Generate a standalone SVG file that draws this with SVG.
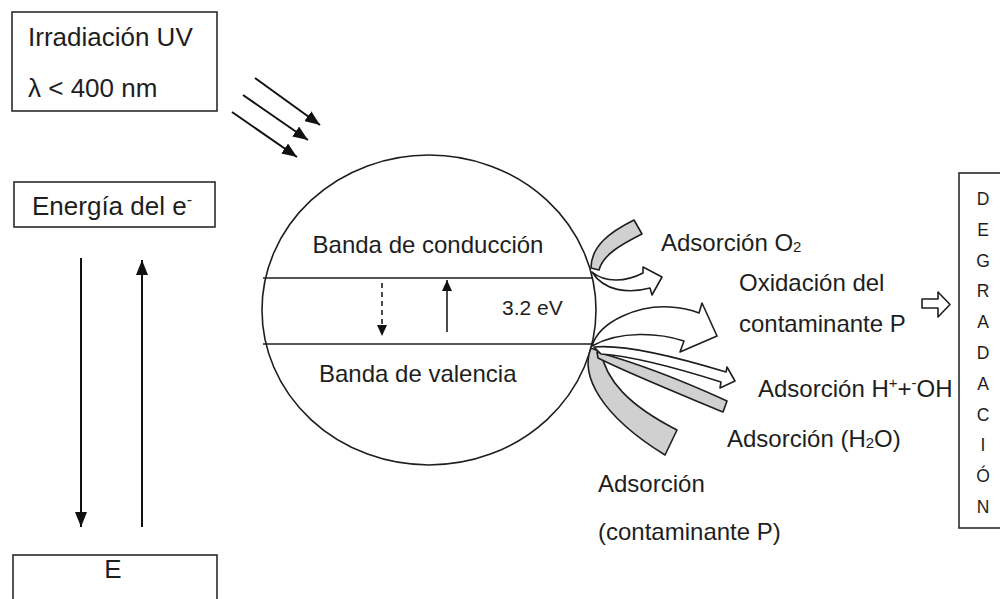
<svg xmlns="http://www.w3.org/2000/svg" width="1000" height="599" viewBox="0 0 1000 599">
<style>
.t{font-family:"Liberation Sans",Arial,sans-serif;fill:#1e1e1e}
.box{fill:#fff;stroke:#2b2b2b;stroke-width:1.6}
.ln{stroke:#1e1e1e;stroke-width:1.6;fill:none}
.ar{stroke:#111;stroke-width:2;fill:none}
.gray{fill:#d0d0d0;stroke:#1e1e1e;stroke-width:1.6;stroke-linejoin:round}
.wht{fill:#fff;stroke:#1e1e1e;stroke-width:1.6;stroke-linejoin:round}
</style>
<defs>
<marker id="ah" markerUnits="userSpaceOnUse" markerWidth="16" markerHeight="12" refX="15" refY="6" orient="auto">
<path d="M0,0 L15,6 L0,12 z" fill="#111"/>
</marker>
<marker id="ahs" markerUnits="userSpaceOnUse" markerWidth="12" markerHeight="10" refX="11" refY="5" orient="auto">
<path d="M0,0 L11,5 L0,10 z" fill="#111"/>
</marker>
</defs>
<rect width="1000" height="599" fill="#fff"/>

<g id="irradiacion">
<rect class="box" x="12" y="12" width="205" height="99"/>
<text class="t" x="28" y="46" font-size="26">Irradiación UV</text>
<text class="t" x="28" y="97" font-size="26">λ &lt; 400 nm</text>
</g>

<g id="energia">
<rect class="box" x="14" y="182" width="201" height="45"/>
<text class="t" x="32" y="215" font-size="26">Energía del e<tspan font-size="16" dy="-10">-</tspan></text>
</g>

<g id="e-box">
<rect class="box" x="13" y="555" width="204" height="60"/>
<text class="t" x="113" y="578" font-size="26" text-anchor="middle">E</text>
</g>

<g id="particula">
<ellipse class="ln" cx="429" cy="310" rx="167" ry="155"/>
<line class="ln" x1="263" y1="278" x2="593" y2="278"/>
<line class="ln" x1="263" y1="344" x2="595" y2="344"/>
<text class="t" x="428" y="253" font-size="24" text-anchor="middle">Banda de conducción</text>
<text class="t" x="502" y="315" font-size="21">3.2 eV</text>
<text class="t" x="319" y="382" font-size="24">Banda de valencia</text>
</g>

<g id="degradacion">
<rect class="box" x="959" y="173" width="50" height="355"/>
<g class="t" font-size="17.5" text-anchor="middle">
<text x="983" y="205">D</text>
<text x="983" y="236">E</text>
<text x="983" y="267">G</text>
<text x="983" y="297">R</text>
<text x="983" y="328">A</text>
<text x="983" y="359">D</text>
<text x="983" y="390">A</text>
<text x="983" y="421">C</text>
<text x="983" y="451">I</text>
<text x="983" y="482">Ó</text>
<text x="983" y="513">N</text>
</g>
</g>

<g id="labels">
<text class="t" x="661" y="251" font-size="24">Adsorción O<tspan font-size="15" dy="1">2</tspan></text>
<text class="t" x="739" y="291" font-size="24">Oxidación del</text>
<text class="t" x="739" y="332" font-size="24">contaminante P</text>
<text class="t" x="758" y="397" font-size="24">Adsorción H<tspan font-size="15" dy="-9">+</tspan><tspan dy="9">+</tspan><tspan font-size="15" dy="-9">-</tspan><tspan dy="9">OH</tspan></text>
<text class="t" x="727" y="447" font-size="24">Adsorción (H<tspan font-size="15" dy="1">2</tspan><tspan dy="-1">O)</tspan></text>
<text class="t" x="598" y="492" font-size="24">Adsorción</text>
<text class="t" x="598" y="540" font-size="24">(contaminante P)</text>
</g>

<g id="connectors">
<line class="ar" x1="255" y1="78" x2="320" y2="125" marker-end="url(#ah)"/>
<line class="ar" x1="243" y1="95" x2="308" y2="140" marker-end="url(#ah)"/>
<line class="ar" x1="232" y1="112" x2="297" y2="157" marker-end="url(#ah)"/>
<line class="ar" x1="81" y1="258" x2="81" y2="527" marker-end="url(#ah)"/>
<line class="ar" x1="142" y1="527" x2="142" y2="260" marker-end="url(#ah)"/>
<line class="ln" x1="382" y1="283" x2="382" y2="336" stroke-dasharray="5,4" marker-end="url(#ahs)"/>
<line class="ln" x1="447" y1="332" x2="447" y2="280" marker-end="url(#ahs)"/>

<path class="gray" d="M591,268 C591,246 610,232 634,220 L642,234 C620,245 603,255 599,270 Z"/>
<path class="wht" d="M592,272 C605,283 626,282 643,273 L643,267 L662,277 L652,295 L650,288 C628,294 604,291 592,272 Z"/>

<path class="gray" d="M591,348 C580,375 600,415 665,455 L677,430 C628,405 606,380 601,352 Z"/>
<path class="gray" d="M597,352 C640,364 690,384 727,401 L723,412 C680,394 630,374 598,358 Z"/>
<path class="wht" d="M594,347 C625,344 680,358 726,372 L727,367 L735,381 L720,388 L721,382 C680,369 630,356 601,354 Z"/>
<path class="wht" d="M592,346 C600,320 640,305 670,307 C685,308 694,311 699,313 L702,303 L717,336 L680,352 L684,341 C660,333 620,330 592,346 Z"/>

<path class="wht" d="M922,299 L938,299 L938,292 L950,304.5 L938,317 L938,308 L922,308 Z"/>
</g>
</svg>
